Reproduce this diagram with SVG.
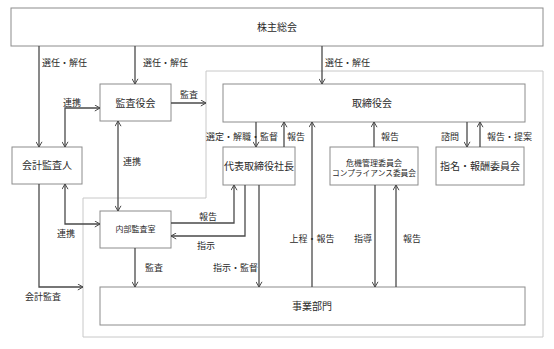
<svg xmlns="http://www.w3.org/2000/svg" width="554" height="349" viewBox="0 0 554 349">
<style>
text{font-family:"Noto Sans CJK JP","Noto Sans",sans-serif;fill:#2a2a2a}
.box{fill:#fff;stroke:#8c8c8c;stroke-width:1}
.n{font-size:10px;text-anchor:middle}
.s{font-size:8px;text-anchor:middle}
.l{font-size:9px}
.c{fill:none;stroke:#4a4a4a;stroke-width:1.3}
.e{marker-end:url(#a)}
.b{marker-start:url(#a);marker-end:url(#a)}
</style>
<defs>
<marker id="a" viewBox="0 0 7 7" refX="6" refY="3.5" markerWidth="7" markerHeight="7" markerUnits="userSpaceOnUse" orient="auto-start-reverse">
<path d="M0.8,0.5 L6,3.5 L0.8,6.5" fill="none" stroke="#4a4a4a" stroke-width="1"/>
</marker>
</defs>
<rect width="554" height="349" fill="#fff"/>
<g id="boundary">
<path d="M206,71 H543 V337 H83 V198 H206 Z" fill="none" stroke="#c8c8c8" stroke-width="1"/>
</g>
<g id="kabunushi"><rect class="box" x="11" y="8" width="532" height="38"/><text class="n" x="277" y="30.5">株主総会</text></g>
<g id="kansayakukai"><rect class="box" x="100" y="84" width="71" height="37"/><text class="n" x="135.5" y="106.5">監査役会</text></g>
<g id="torishimariyakukai"><rect class="box" x="223" y="84" width="302" height="38"/><text class="n" x="372" y="106.5">取締役会</text></g>
<g id="kaikei"><rect class="box" x="12" y="147" width="70" height="37"/><text class="n" x="47" y="169">会計監査人</text></g>
<g id="shacho"><rect class="box" x="223" y="147" width="72" height="38"/><text class="n" x="259" y="169.5">代表取締役社長</text></g>
<g id="kiki"><rect class="box" x="330" y="147" width="88" height="38"/><text class="s" x="374" y="165.5">危機管理委員会</text><text class="s" x="374" y="175.5" textLength="84" lengthAdjust="spacingAndGlyphs">コンプライアンス委員会</text></g>
<g id="shimei"><rect class="box" x="436" y="147" width="88" height="38"/><text class="n" x="480" y="169.5">指名・報酬委員会</text></g>
<g id="naibu"><rect class="box" x="100" y="211" width="71" height="37"/><text class="s" x="135.5" y="232">内部監査室</text></g>
<g id="jigyo"><rect class="box" x="100" y="287" width="425" height="38"/><text class="n" x="312" y="309.5">事業部門</text></g>
<g id="connectors">
<path class="c e" d="M39,46 V147"/>
<path class="c e" d="M135,46 V84"/>
<path class="c e" d="M322,46 V84"/>
<path class="c b" d="M65,147 V108 H100"/>
<path class="c e" d="M171,103 H206"/>
<path class="c b" d="M118,121 V211"/>
<path class="c b" d="M65,184 V224 H100"/>
<path class="c e" d="M39,184 V287 H83"/>
<path class="c e" d="M171,223 H234 V185"/>
<path class="c e" d="M245,185 V236 H171"/>
<path class="c e" d="M135,248 V287"/>
<path class="c e" d="M259,185 V287"/>
<path class="c e" d="M256,122 V147"/>
<path class="c e" d="M284,147 V122"/>
<path class="c e" d="M312,287 V122"/>
<path class="c e" d="M374,147 V122"/>
<path class="c e" d="M375,185 V287"/>
<path class="c e" d="M396,287 V185"/>
<path class="c e" d="M467,122 V147"/>
<path class="c e" d="M480,147 V122"/>
<text class="l" x="42" y="65.5">選任・解任</text>
<text class="l" x="143" y="65.5">選任・解任</text>
<text class="l" x="325" y="65.5">選任・解任</text>
<text class="l" x="63" y="106">連携</text>
<text class="l" x="180" y="97.5">監査</text>
<text class="l" x="123" y="164.5">連携</text>
<text class="l" x="57" y="236.5">連携</text>
<text class="l" x="25" y="299.5">会計監査</text>
<text class="l" x="199" y="220">報告</text>
<text class="l" x="197" y="248.5">指示</text>
<text class="l" x="145" y="271">監査</text>
<text class="l" x="213" y="271">指示・監督</text>
<text class="l" x="206" y="139.5">選定・解職・監督</text>
<text class="l" x="287" y="139.5">報告</text>
<text class="l" x="312" y="242" text-anchor="middle">上程・報告</text>
<text class="l" x="354" y="242">指導</text>
<text class="l" x="403" y="242">報告</text>
<text class="l" x="381" y="139.5">報告</text>
<text class="l" x="441" y="139.5">諮問</text>
<text class="l" x="487" y="139.5">報告・提案</text>
</g>
</svg>
